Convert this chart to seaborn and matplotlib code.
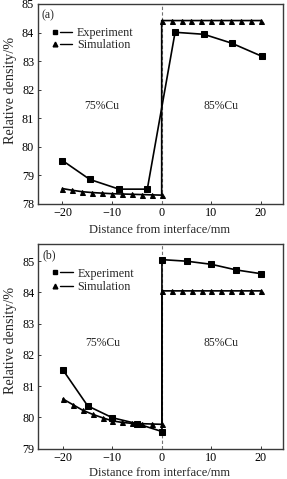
import matplotlib
matplotlib.use("Agg")
import matplotlib.pyplot as plt
from matplotlib.lines import Line2D
from matplotlib.legend_handler import HandlerTuple
import seaborn as sns

sns.set_theme(style="ticks")
plt.rcParams['font.family'] = ['Liberation Serif', 'DejaVu Serif']

# Panel (a)
a_exp_x_left = [-20, -14.5, -8.6, -2.9]
a_exp_y_left = [79.52, 78.86, 78.52, 78.52]
a_exp_x_right = [2.7, 8.5, 14.1, 20.2]
a_exp_y_right = [84.01, 83.94, 83.63, 83.17]
a_sim_x_left = [-20, -18, -16, -14, -12, -10, -8, -6, -4, -2, 0]
a_sim_y_left = [78.54, 78.48, 78.43, 78.40, 78.38, 78.36, 78.35, 78.34, 78.33, 78.32, 78.31]
a_sim_x_right = [0, 2, 4, 6, 8, 10, 12, 14, 16, 18, 20]
a_sim_y_right = [84.42] * 11

# Panel (b)
b_exp_x_left = [-20, -15, -10, -5, 0]
b_exp_y_left = [81.52, 80.37, 79.99, 79.80, 79.55]
b_exp_x_right = [0, 5, 10, 15, 20]
b_exp_y_right = [85.05, 85.0, 84.9, 84.72, 84.6]
b_sim_x_left = [-20, -18, -16, -14, -12, -10, -8, -6, -4, -2, 0]
b_sim_y_left = [80.59, 80.41, 80.23, 80.10, 79.99, 79.89, 79.84, 79.81, 79.80, 79.79, 79.78]
b_sim_x_right = [0, 2, 4, 6, 8, 10, 12, 14, 16, 18, 20]
b_sim_y_right = [84.05] * 11

xticks = [-20, -10, 0, 10, 20]
series_labels = ['Experiment', 'Simulation']
region_labels = ['75%Cu', '85%Cu']

fig = plt.figure(figsize=(2.87, 4.79), dpi=100)
axa = fig.add_axes([37.7/287, (479-204)/479, (282.7-37.7)/287, 200/479])
axb = fig.add_axes([38.2/287, (479-448.7)/479, (282.7-38.2)/287, (448.7-244)/479])

TICK_FS = 8.7
SPINE = '#3a3a3a'

def draw(ax, exl, eyl, exr, eyr, sxl, syl, sxr, syr, ylim, yticks, label,
         txt_y, leg_y, leg_space, ylab_y, xlab_y):
    ax.axvline(0, color='0.45', lw=0.8, ls=(0, (3, 2)), zorder=1)
    sns.lineplot(x=exl + exr, y=eyl + eyr, ax=ax, color='black', lw=1.2, marker='s', ms=3.8,
                 mec='black', sort=False, estimator=None)
    sns.lineplot(x=sxl + sxr, y=syl + syr, ax=ax, color='black', lw=1.2, marker='^', ms=3.6,
                 mec='black', sort=False, estimator=None)
    ax.set_xlim(-25, 24.4)
    ax.set_ylim(*ylim)
    ax.set_xticks(xticks)
    ax.set_yticks(yticks)
    ax.tick_params(direction='in', length=2.5, width=0.7, labelsize=TICK_FS, pad=2.5,
                   colors=SPINE, labelcolor='black')
    for s in ax.spines.values():
        s.set_color(SPINE)
        s.set_linewidth(1.0)
    ax.set_xlabel('Distance from interface/mm', fontsize=9)
    ax.xaxis.set_label_coords(0.497, xlab_y)
    ax.set_ylabel('Relative density/%', fontsize=10.2)
    ax.yaxis.set_label_coords(-0.085, ylab_y)
    ax.text(-12, txt_y, region_labels[0], fontsize=8.4, ha='center', va='center')
    ax.text(12, txt_y, region_labels[1], fontsize=8.4, ha='center', va='center')
    ax.text(0.016, 0.945, label, transform=ax.transAxes, fontsize=8.5, ha='left', va='center')
    h_exp = (Line2D([], [], ls='none', marker='s', ms=3.4, color='black'),
             Line2D([], [], color='black', lw=1.0))
    h_sim = (Line2D([], [], ls='none', marker='^', ms=3.4, color='black'),
             Line2D([], [], color='black', lw=1.0))
    ax.legend([h_exp, h_sim], series_labels,
              handler_map={tuple: HandlerTuple(ndivide=None, pad=-0.1)},
              loc='upper left', bbox_to_anchor=(0.045, leg_y), frameon=False,
              fontsize=8.7, handlelength=1.95, handletextpad=0.4,
              labelspacing=leg_space, borderaxespad=0.0, borderpad=0.0)

draw(axa, a_exp_x_left, a_exp_y_left, a_exp_x_right, a_exp_y_right,
     a_sim_x_left, a_sim_y_left, a_sim_x_right, a_sim_y_right,
     (78, 85), [78, 79, 80, 81, 82, 83, 84, 85], '(a)', 81.42, 0.885, 0.0, 0.57, -0.10)
draw(axb, b_exp_x_left, b_exp_y_left, b_exp_x_right, b_exp_y_right,
     b_sim_x_left, b_sim_y_left, b_sim_x_right, b_sim_y_right,
     (79, 85.55), [79, 80, 81, 82, 83, 84, 85], '(b)', 82.39, 0.885, 0.12, 0.53, -0.089)

fig.savefig('out.png', dpi=100)
